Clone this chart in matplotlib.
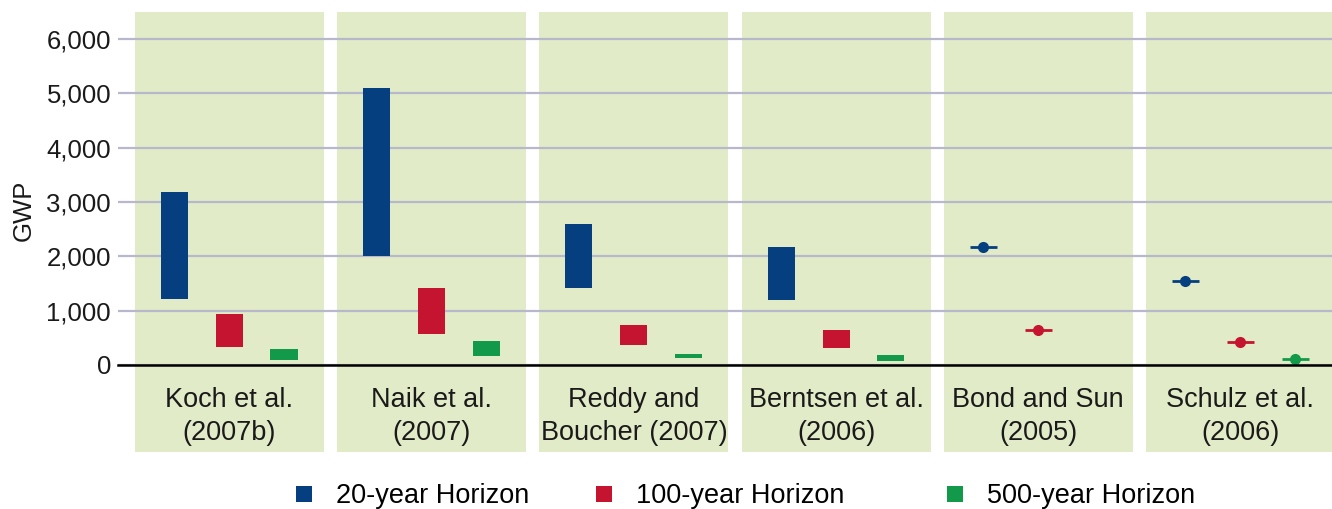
import numpy as np
import matplotlib
matplotlib.use("Agg")
import matplotlib.pyplot as plt
from matplotlib.patches import Rectangle
from matplotlib.lines import Line2D
import matplotlib.transforms as mtransforms

plt.rcParams["font.family"] = ["Liberation Sans", "DejaVu Sans"]

# Studies and GWP ranges (low/high); equal low and high means a single estimate
studies = ["Koch et al.\n(2007b)", "Naik et al.\n(2007)", "Reddy and\nBoucher (2007)",
           "Berntsen et al.\n(2006)", "Bond and Sun\n(2005)", "Schulz et al.\n(2006)"]
gwp20_low = [1220, 2000, 1410, 1200, 2180, 1540]
gwp20_high = [3190, 5090, 2590, 2170, 2180, 1540]
gwp100_low = [340, 570, 360, 320, 650, 430]
gwp100_high = [930, 1410, 730, 640, 650, 430]
gwp500_low = [90, 160, 120, 80, np.nan, 110]
gwp500_high = [290, 450, 210, 190, np.nan, 110]
horizon_labels = ["20-year Horizon", "100-year Horizon", "500-year Horizon"]
yticks = [0, 1000, 2000, 3000, 4000, 5000, 6000]

colors = ["#053f80", "#c4142f", "#129a4a"]
panel_color = "#e2ebc7"
grid_color = "#b8b8cc"

W, H = 1332, 509
fig = plt.figure(figsize=(W / 100, H / 100), dpi=100)
ax = fig.add_axes([118 / W, 1 - 365 / H, 1 - 118 / W, (365 - 12) / H])

x = np.arange(len(studies))
offsets = [-0.272, 0.0, 0.27]
bar_w = 0.134
panel_half = 0.467

# background panels, reaching down behind the study labels
trans = mtransforms.blended_transform_factory(ax.transData, ax.transAxes)
panel_bottom = -(452 - 365) / (365 - 12)
for xi in x:
    ax.add_patch(Rectangle((xi - panel_half, panel_bottom), 2 * panel_half,
                           1 - panel_bottom, transform=trans, facecolor=panel_color,
                           edgecolor="none", zorder=0, clip_on=False))

series = [(gwp20_low, gwp20_high), (gwp100_low, gwp100_high), (gwp500_low, gwp500_high)]
for (lo, hi), off, c in zip(series, offsets, colors):
    lo = np.asarray(lo, dtype=float)
    hi = np.asarray(hi, dtype=float)
    rng = (hi > lo)
    pt = (hi == lo)
    ax.bar(x[rng] + off, hi[rng] - lo[rng], bottom=lo[rng], width=bar_w,
           color=c, zorder=3, linewidth=0)
    ax.hlines(lo[pt], x[pt] + off - bar_w / 2, x[pt] + off + bar_w / 2,
              colors=c, linewidth=2.0, zorder=3)
    ax.plot(x[pt] + off, lo[pt], "o", color=c, markersize=8, zorder=4,
            markeredgewidth=0)

ax.set_xlim(-0.551, 5.4525)
ax.set_ylim(0, 6497)
ax.set_yticks(yticks)
ax.set_yticklabels([f"{v:,}" for v in yticks])
ax.yaxis.grid(True, color=grid_color, linewidth=1.6, zorder=1)
ax.set_axisbelow("line")
ax.set_xticks(x)
ax.set_xticklabels(studies, fontsize=19.5, color="#1a1a1a", linespacing=1.32)
ax.tick_params(axis="x", length=0, pad=16)
ax.tick_params(axis="y", length=0, pad=5, labelsize=18.5, labelcolor="#1a1a1a")
for s in ["top", "right", "left"]:
    ax.spines[s].set_visible(False)
ax.spines["bottom"].set_color("black")
ax.spines["bottom"].set_linewidth(1.8)
ax.spines["bottom"].set_zorder(5)
ax.patch.set_alpha(0)

fig.text(24 / W, 1 - 210 / H, "GWP", rotation=90, fontsize=18.5,
         ha="center", va="center", color="#1a1a1a")

# one legend entry per horizon, spread along the bottom
legend_left = [297, 597, 948]
for c, lab, xl in zip(colors, horizon_labels, legend_left):
    h = Line2D([], [], marker="s", linestyle="none", markersize=12,
               markerfacecolor=c, markeredgewidth=0)
    fig.legend([h], [lab], loc="center left", bbox_to_anchor=(xl / W - 0.002, 1 - 496 / H),
               frameon=False, fontsize=19.5, handlelength=0.7, handletextpad=0.85,
               borderaxespad=0, borderpad=0)

fig.savefig("out.png", dpi=100)
